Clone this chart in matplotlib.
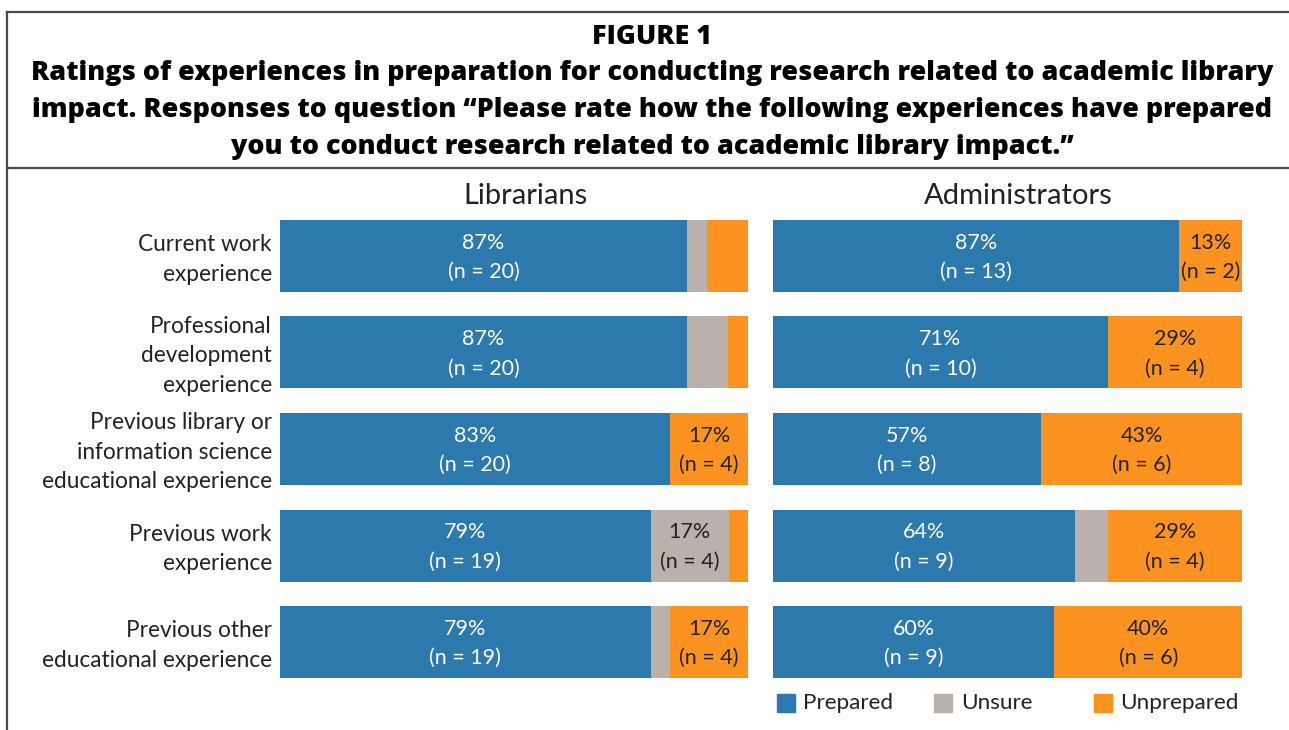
import numpy as np
import matplotlib.pyplot as plt
from matplotlib.lines import Line2D
from matplotlib.patches import Rectangle

categories = [
    "Current work\nexperience",
    "Professional\ndevelopment\nexperience",
    "Previous library or\ninformation science\neducational experience",
    "Previous work\nexperience",
    "Previous other\neducational experience",
]
groups = ["Librarians", "Administrators"]
ratings = ["Prepared", "Unsure", "Unprepared"]

# respondent counts per rating
lib_prepared = [20, 20, 20, 19, 19]
lib_unsure = [1, 2, 0, 4, 1]
lib_unprepared = [2, 1, 4, 1, 4]
adm_prepared = [13, 10, 8, 9, 9]
adm_unsure = [0, 0, 0, 1, 0]
adm_unprepared = [2, 4, 6, 4, 6]

colors = ["#2C79AE", "#BAB0AC", "#FC9320"]
text_colors = ["white", "#222222", "#222222"]

W, H = 1289, 730
fig = plt.figure(figsize=(W / 100, H / 100), dpi=100)
body_font = "Lato"
title_font = "Open Sans"


def fx(px):
    return px / W


def fy(py):
    return 1 - py / H


# frame lines
line_kw = dict(color="#4a4a4a", linewidth=1.6, transform=fig.transFigure)
fig.add_artist(Line2D([fx(7), 1], [fy(12), fy(12)], **line_kw))
fig.add_artist(Line2D([fx(7), 1], [fy(168), fy(168)], **line_kw))
fig.add_artist(Line2D([fx(7), fx(7)], [fy(12), 0], **line_kw))

# title
title_lines = [
    "FIGURE 1",
    "Ratings of experiences in preparation for conducting research related to academic library",
    "impact. Responses to question \u201cPlease rate how the following experiences have prepared",
    "you to conduct research related to academic library impact.\u201d",
]
for i, t in enumerate(title_lines):
    fig.text(fx(652), fy(37 + i * 36.5), t, ha="center", va="center",
             fontsize=19.4, fontweight="heavy", family=title_font, color="black")

panels = [
    (groups[0], [lib_prepared, lib_unsure, lib_unprepared], 280, 748),
    (groups[1], [adm_prepared, adm_unsure, adm_unprepared], 773, 1242),
]

y = np.arange(len(categories))
bar_h = 72 / 96.5
for k, (name, counts, x0, x1) in enumerate(panels):
    ax = fig.add_axes([fx(x0), 52 / H, (x1 - x0) / W, 458 / H])
    counts = np.array(counts, dtype=float)
    totals = counts.sum(axis=0)
    shares = counts / totals
    left = np.zeros(len(categories))
    for j in range(3):
        ax.barh(y, shares[j], left=left, height=bar_h, color=colors[j],
                edgecolor="none")
        for i in range(len(categories)):
            if shares[j][i] >= 0.12:
                cx = left[i] + shares[j][i] / 2
                ax.text(cx, y[i] - 0.135, f"{round(shares[j][i] * 100)}%",
                        ha="center", va="center", fontsize=15.5,
                        color=text_colors[j], family=body_font)
                ax.text(cx, y[i] + 0.165, f"(n = {int(counts[j][i])})",
                        ha="center", va="center", fontsize=15.5,
                        color=text_colors[j], family=body_font)
        left += shares[j]
    ax.set_xlim(0, 1)
    ax.set_ylim(len(categories) - 1 + bar_h / 2, -bar_h / 2)
    ax.axis("off")
    fig.text(fx((x0 + x1) / 2 + 11), fy(196), name, ha="center", va="center",
             fontsize=21, family=body_font, color="#222222")
    if k == 0:
        for i, c in enumerate(categories):
            ax.text(-0.017, y[i] + 0.035, c, ha="right", va="center",
                    fontsize=16.3, family=body_font, color="#222222",
                    linespacing=1.5, transform=ax.transData)

# legend
leg_items = [(777, 803), (934, 961), (1094, 1120)]
for (sx, tx), c, lab in zip(leg_items, colors, ratings):
    fig.add_artist(Rectangle((fx(sx), fy(712)), 18 / W, 18 / H,
                             transform=fig.transFigure, color=c))
    fig.text(fx(tx), fy(703), lab, ha="left", va="center", fontsize=16.2,
             family=body_font, color="#222222")

fig.savefig("out.png", dpi=100)
